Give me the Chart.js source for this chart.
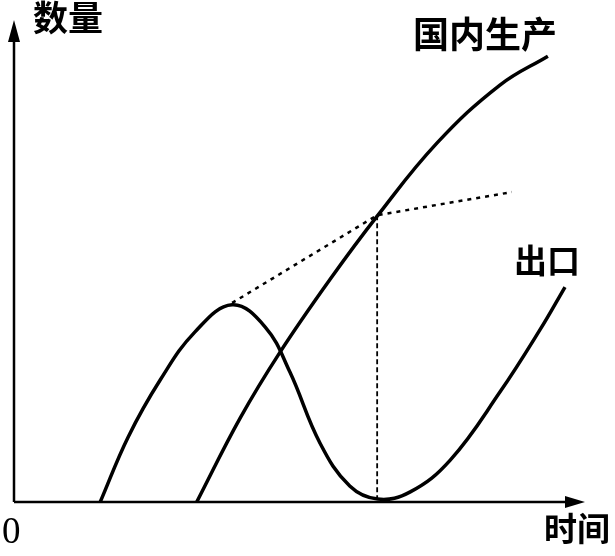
<!DOCTYPE html>
<html>
<head>
<meta charset="utf-8">
<script src="https://cdn.jsdelivr.net/npm/chart.js"></script>
<style>
html,body{margin:0;padding:0;background:#fff}
#wrap{width:615px;height:556px}
</style>
</head>
<body>
<div id="wrap"><canvas id="myChart"></canvas></div>
<script>
// 出口 curve (time, quantity), 0-100 units
var exportX=[15.1,20.0,25.6,31.7,38.2,44.0,48.3,53.6,58.8,63.7,69.4,76.4,85.1,92.1,96.5];
var exportY=[0,13.5,25.3,35.3,40.9,36.3,27.0,12.2,3.3,0.6,2.1,8.7,22.8,35.7,44.6];
// 国内生产 curve
var prodX=[32.0,39.6,46.6,55.3,63.6,74.1,85.1,93.5];
var prodY=[0,17.4,31.1,46.1,59.3,74.5,86.5,92.5];
// dotted guide lines
var guideX=[38.2,63.6,87.2];
var guideY=[41.3,59.5,64.3];
var dropX=[63.6,63.6];
var dropY=[59.5,0.4];

function pts(xs,ys){return xs.map((x,i)=>({x:x,y:ys[i]}));}

var axes={
  id:'axes',
  beforeDatasetsDraw(chart){
    var c=chart.ctx,xs=chart.scales.x,ys=chart.scales.y;
    var x0=xs.getPixelForValue(0),y0=ys.getPixelForValue(0);
    var yTop=ys.getPixelForValue(100),xEnd=xs.getPixelForValue(100);
    c.save();
    c.strokeStyle='#000';c.fillStyle='#000';c.lineWidth=2.5;
    c.beginPath();c.moveTo(x0,y0);c.lineTo(x0,yTop+15);c.moveTo(x0,y0);c.lineTo(xEnd-15,y0);c.stroke();
    c.beginPath();c.moveTo(x0,yTop);c.lineTo(x0-6,yTop+22);c.lineTo(x0+6,yTop+22);c.closePath();c.fill();
    c.beginPath();c.moveTo(xEnd,y0);c.lineTo(xEnd-20,y0-6);c.lineTo(xEnd-20,y0+6);c.closePath();c.fill();
    c.restore();
  },
  afterDraw(chart){
    var c=chart.ctx;
    c.save();
    c.fillStyle='#000';c.textBaseline='top';
    c.font='bold 35px "Noto Sans CJK SC"';
    c.fillText('数量',33,0);
    c.font='bold 36px "Noto Sans CJK SC"';
    c.fillText('国内生产',413,16);
    c.font='bold 33px "Noto Sans CJK SC"';
    c.fillText('出口',514,244);
    c.fillText('时间',544,512);
    c.font='37px "Liberation Serif"';
    c.textBaseline='alphabetic';
    c.fillText('0',2,543);
    c.restore();
  }
};

new Chart("myChart",{
  type:"scatter",
  data:{
    datasets:[{
      label:"出口",
      data:pts(exportX,exportY),
      showLine:true,borderColor:"#000",borderWidth:3.5,pointRadius:0,tension:0.4
    },{
      label:"国内生产",
      data:pts(prodX,prodY),
      showLine:true,borderColor:"#000",borderWidth:3.5,pointRadius:0,tension:0.4
    },{
      data:pts(guideX,guideY),
      showLine:true,borderColor:"#000",borderWidth:2.5,borderDash:[4,5],pointRadius:0,tension:0
    },{
      data:pts(dropX,dropY),
      showLine:true,borderColor:"#000",borderWidth:1.8,borderDash:[5,3],pointRadius:0,tension:0
    }]
  },
  options:{
    responsive:true,maintainAspectRatio:false,animation:false,
    layout:{padding:{left:14,right:30,top:20,bottom:54}},
    plugins:{legend:{display:false},tooltip:{enabled:false}},
    scales:{
      x:{type:"linear",min:0,max:100,display:false},
      y:{type:"linear",min:0,max:100,display:false}
    }
  },
  plugins:[axes]
});
</script>
</body>
</html>
